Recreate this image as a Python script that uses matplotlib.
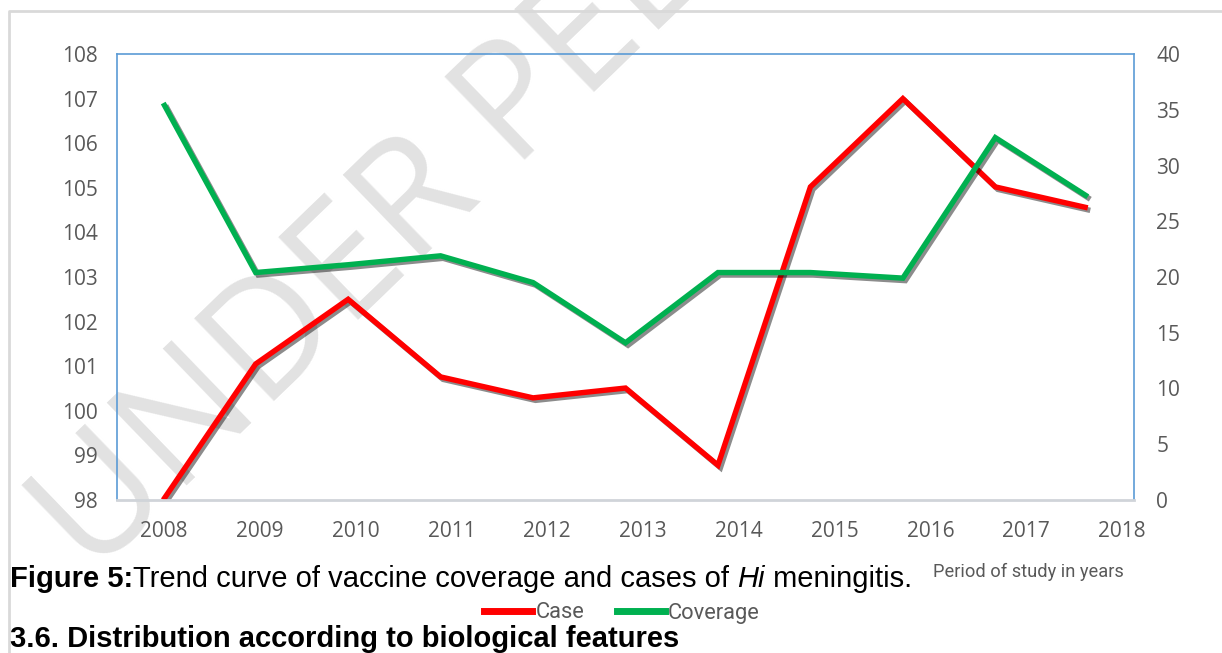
import matplotlib
matplotlib.use('Agg')
import matplotlib.pyplot as plt
import matplotlib.patheffects as pe
from matplotlib import font_manager
from matplotlib.lines import Line2D
import numpy as np

# values
years = ['2008', '2009', '2010', '2011', '2012', '2013', '2014', '2015', '2016', '2017', '2018']
cases = [98.0, 101.05, 102.5, 100.76, 100.29, 100.51, 98.78, 105.02, 107.0, 105.02, 104.55]
coverage = [35.6, 20.4, 21.1, 21.9, 19.5, 14.1, 20.4, 20.4, 19.9, 32.5, 27.2]
left_ticks = list(range(98, 109))
right_ticks = list(range(0, 41, 5))

W, H = 1222, 653
grey = '#595959'
tick_font = 'Open Sans'
installed = {f.name for f in font_manager.fontManager.ttflist}
narrow = 'Liberation Sans Narrow' if 'Liberation Sans Narrow' in installed else 'Roboto'

fig = plt.figure(figsize=(W / 100, H / 100), dpi=100)
renderer = fig.canvas.get_renderer()


def fit_size(text, family, width_px, ref=10):
    # font size that makes the text span width_px
    t = fig.text(0, 0, text, fontsize=ref, family=family)
    w = t.get_window_extent(renderer).width
    t.remove()
    return ref * width_px / w


ax = fig.add_axes([117 / W, 1 - 500 / H, (1134 - 117) / W, (500 - 54) / H])
ax.set_facecolor('none')
ax2 = ax.twinx()

shadow = [pe.SimpleLineShadow(offset=(1.8, -1.8), shadow_color='black', alpha=0.45), pe.Normal()]
x = np.arange(len(years))
ax.plot(x, cases, color='#ff0000', lw=3.9, solid_joinstyle='miter',
        solid_capstyle='butt', path_effects=shadow, label='Case')
ax2.plot(x, coverage, color='#00b050', lw=3.9, solid_joinstyle='miter',
         solid_capstyle='butt', path_effects=shadow, label='Coverage')

ax.set_xlim(-0.5, 10.5)
ax.set_ylim(98, 108)
ax2.set_ylim(0, 40)
ax.set_yticks(left_ticks)
ax2.set_yticks(right_ticks)
# year labels sit on a slightly wider spacing than the points
ax.set_xticks(np.arange(len(years)) * 1.036 + 0.01)
ax.set_xticklabels(years)

for a in (ax, ax2):
    a.tick_params(length=0, labelsize=15, labelcolor=grey)
    for lab in a.get_xticklabels() + a.get_yticklabels():
        lab.set_family(tick_font)
ax.tick_params(axis='x', pad=15)
ax.tick_params(axis='y', pad=14)
ax2.tick_params(axis='y', pad=16)

for s in ('left', 'top', 'right'):
    ax.spines[s].set_color('#5b9bd5')
    ax.spines[s].set_linewidth(1.2)
ax.spines['bottom'].set_color('#d0d4d9')
ax.spines['bottom'].set_linewidth(2)
for s in ax2.spines.values():
    s.set_visible(False)

# outer frame of the chart object
fig.add_artist(Line2D([9 / W, 9 / W, 1], [0, 1 - 11 / H, 1 - 11 / H],
                      transform=fig.transFigure, color='#d9d9d9', lw=2))

# watermark
fig.text(92 / W, 1 - 578 / H, 'UNDER PEER REVIEW', rotation=44, rotation_mode='anchor',
         ha='left', va='baseline', fontsize=116, color='#e2e2e2', family='Open Sans',
         fontweight='normal', zorder=-1)

leg_size = fit_size('Coverage', narrow, 92)
fig.legend(handles=[Line2D([], [], color='#ff0000', lw=5), Line2D([], [], color='#00b050', lw=5)],
           labels=['Case', 'Coverage'], loc='center', bbox_to_anchor=(622 / W, 1 - 613 / H),
           ncol=2, frameon=False, handlelength=48 * 0.72 / leg_size, handletextpad=0.15,
           columnspacing=1.5, prop={'family': narrow, 'size': leg_size}, labelcolor=grey)

period = 'Period of study in years'
fig.text(933 / W, 1 - 577 / H, period, va='baseline', ha='left',
         color=grey, fontsize=fit_size(period, narrow, 191), family=narrow)

# caption pieces placed one after another
xpos = 10 / W
for txt, style, weight in [('Figure 5:', 'normal', 'bold'),
                           ('Trend curve of vaccine coverage and cases of ', 'normal', 'normal'),
                           ('Hi', 'italic', 'normal'),
                           (' meningitis.', 'normal', 'normal')]:
    t = fig.text(xpos, 1 - 587 / H, txt, ha='left', va='baseline', fontsize=21,
                 family='Liberation Sans', fontstyle=style, fontweight=weight, color='black')
    bb = t.get_window_extent(renderer)
    xpos += bb.width / W
fig.text(10 / W, 1 - 647 / H, '3.6. Distribution according to biological features', ha='left',
         va='baseline', fontsize=21, family='Liberation Sans', fontweight='bold', color='black')

fig.savefig('out.png', dpi=100)
